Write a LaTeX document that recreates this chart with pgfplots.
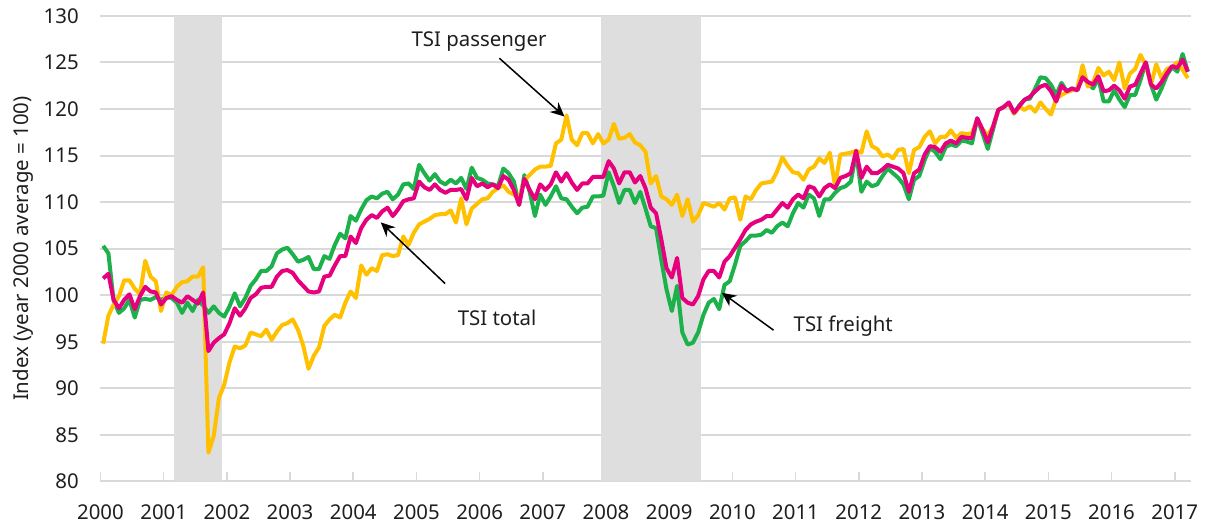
\documentclass[border=0pt]{standalone}
\usepackage{fontspec}
\setmainfont{Noto Sans}
\usepackage{pgfplots}
\usepackage{pgfplotstable}
\pgfplotsset{compat=1.18}
\usetikzlibrary{arrows.meta}
\definecolor{tsigreen}{RGB}{29,177,76}
\definecolor{tsipink}{RGB}{230,0,126}
\definecolor{tsiyellow}{RGB}{255,192,0}
\definecolor{recgray}{RGB}{222,222,222}
\definecolor{gridgray}{RGB}{217,217,217}
\definecolor{txt}{RGB}{30,30,30}

\pgfplotstableread{
t g p y
2000.042 105.3 101.8 94.8
2000.125 104.5 102.3 97.8
2000.208 99.4 99.5 99.0
2000.292 98.1 98.6 99.9
2000.375 98.6 99.5 101.6
2000.458 99.5 100.1 101.6
2000.542 97.6 98.5 100.7
2000.625 99.5 99.9 100.1
2000.708 99.6 100.9 103.7
2000.792 99.5 100.4 102.0
2000.875 99.8 100.3 101.5
2000.958 99.5 99.0 98.3
2001.042 99.8 99.7 100.3
2001.125 99.7 99.9 100.0
2001.208 99.2 99.5 100.9
2001.292 98.1 99.2 101.4
2001.375 99.2 99.9 101.5
2001.458 98.3 99.5 102.0
2001.542 99.5 99.1 102.0
2001.625 98.9 100.3 103.0
2001.708 98.1 94.0 83.1
2001.792 98.8 94.9 84.9
2001.875 98.1 95.4 89.0
2001.958 97.7 95.8 90.4
2002.042 98.8 97.0 92.8
2002.125 100.2 98.6 94.5
2002.208 98.8 97.8 94.3
2002.292 99.7 98.6 94.6
2002.375 101.0 99.7 96.0
2002.458 101.7 100.1 95.8
2002.542 102.6 100.8 95.6
2002.625 102.6 100.9 96.3
2002.708 103.1 100.9 95.2
2002.792 104.5 102.0 96.1
2002.875 104.9 102.6 96.8
2002.958 105.1 102.7 97.0
2003.042 104.4 102.4 97.4
2003.125 103.6 101.6 96.3
2003.208 103.8 101.0 94.6
2003.292 104.1 100.4 92.1
2003.375 102.8 100.3 93.5
2003.458 102.8 100.4 94.4
2003.542 104.2 102.0 96.7
2003.625 103.9 102.1 97.4
2003.708 105.4 103.2 97.9
2003.792 106.6 104.2 97.6
2003.875 106.1 104.2 99.2
2003.958 108.5 106.3 100.4
2004.042 108.0 105.6 99.7
2004.125 109.2 107.2 103.2
2004.208 110.2 108.1 102.2
2004.292 110.6 108.6 102.9
2004.375 110.4 108.3 102.6
2004.458 110.9 109.0 104.3
2004.542 111.1 109.4 104.4
2004.625 110.3 108.5 104.2
2004.708 110.8 109.2 104.3
2004.792 111.9 110.1 106.3
2004.875 112.0 110.3 105.4
2004.958 111.4 110.4 106.7
2005.042 114.0 112.2 107.6
2005.125 113.1 111.6 107.9
2005.208 112.3 111.3 108.2
2005.292 113.0 111.9 108.6
2005.375 112.2 111.3 108.7
2005.458 111.9 111.0 108.7
2005.542 112.4 111.3 109.1
2005.625 112.0 111.3 107.8
2005.708 112.6 111.4 110.4
2005.792 111.4 110.3 107.6
2005.875 113.7 112.6 109.3
2005.958 112.6 111.7 109.8
2006.042 112.4 112.0 110.3
2006.125 112.0 111.6 110.4
2006.208 111.9 111.9 111.1
2006.292 111.7 111.5 111.5
2006.375 113.6 112.8 111.8
2006.458 113.1 112.4 111.1
2006.542 112.2 111.3 110.8
2006.625 109.7 109.7 110.3
2006.708 112.9 112.5 112.4
2006.792 111.1 111.3 112.9
2006.875 108.5 110.3 113.5
2006.958 110.8 111.9 113.8
2007.042 109.7 111.3 113.8
2007.125 110.6 111.9 113.9
2007.208 111.7 113.2 116.3
2007.292 110.4 112.2 116.7
2007.375 110.3 113.1 119.3
2007.458 109.5 112.1 116.7
2007.542 108.8 111.3 116.1
2007.625 109.4 112.0 117.4
2007.708 109.5 112.0 117.4
2007.792 110.6 112.7 116.3
2007.875 110.6 112.7 117.3
2007.958 110.7 112.7 116.3
2008.042 113.2 114.4 116.7
2008.125 111.7 113.6 118.4
2008.208 109.9 112.0 116.8
2008.292 111.3 113.2 116.9
2008.375 111.3 113.2 117.3
2008.458 109.9 112.1 116.4
2008.542 111.1 112.8 116.1
2008.625 109.3 111.5 115.4
2008.708 107.4 109.4 112.0
2008.792 107.2 108.8 112.8
2008.875 103.8 106.0 110.6
2008.958 100.6 102.9 110.3
2009.042 98.3 101.9 109.7
2009.125 101.0 104.0 110.8
2009.208 96.0 99.7 108.5
2009.292 94.7 99.2 110.3
2009.375 94.9 99.0 107.9
2009.458 96.0 99.9 108.6
2009.542 97.9 101.7 109.9
2009.625 99.2 102.6 109.7
2009.708 99.6 102.6 109.5
2009.792 98.5 101.9 109.9
2009.875 101.1 103.6 109.2
2009.958 101.5 104.2 110.4
2010.042 103.3 105.1 110.5
2010.125 105.3 106.0 108.1
2010.208 105.8 107.0 110.6
2010.292 106.4 107.6 110.3
2010.375 106.4 107.9 111.3
2010.458 106.5 108.1 112.0
2010.542 107.0 108.5 112.1
2010.625 106.7 108.5 112.2
2010.708 107.4 109.2 113.3
2010.792 107.8 109.9 114.8
2010.875 107.4 109.4 113.9
2010.958 108.8 110.3 113.2
2011.042 109.9 110.8 113.1
2011.125 109.4 110.4 112.4
2011.208 110.8 111.7 113.5
2011.292 110.4 111.5 113.8
2011.375 108.5 110.6 114.7
2011.458 110.3 111.5 114.2
2011.542 110.3 111.9 115.3
2011.625 111.0 111.5 111.7
2011.708 111.5 112.6 115.1
2011.792 111.7 112.8 115.2
2011.875 112.2 113.1 115.3
2011.958 115.3 115.5 115.5
2012.042 111.1 112.6 115.3
2012.125 112.2 113.8 117.6
2012.208 111.7 113.1 116.0
2012.292 111.9 113.1 115.7
2012.375 112.8 113.5 114.9
2012.458 113.6 114.0 115.1
2012.542 113.1 113.8 114.7
2012.625 112.6 113.6 115.6
2012.708 111.9 113.1 115.7
2012.792 110.3 111.1 113.1
2012.875 112.4 113.1 115.6
2012.958 112.8 113.5 115.9
2013.042 114.5 115.1 117.0
2013.125 115.8 116.0 117.6
2013.208 115.4 115.9 116.3
2013.292 114.6 115.4 117.0
2013.375 115.9 116.3 117.0
2013.458 116.2 116.6 117.7
2013.542 116.0 116.3 116.9
2013.625 116.6 117.0 117.4
2013.708 116.5 116.9 117.3
2013.792 116.3 116.9 117.4
2013.875 119.0 119.0 118.9
2013.958 117.4 117.8 117.8
2014.042 115.7 116.4 117.2
2014.125 117.8 118.1 118.1
2014.208 119.9 119.9 119.9
2014.292 120.2 120.2 120.2
2014.375 120.6 120.7 120.6
2014.458 119.5 119.6 119.5
2014.542 120.4 120.3 120.2
2014.625 121.0 121.0 119.9
2014.708 121.1 121.3 120.3
2014.792 122.2 121.9 119.7
2014.875 123.4 122.4 120.7
2014.958 123.3 122.6 120.0
2015.042 122.6 121.9 119.4
2015.125 121.5 120.8 121.1
2015.208 122.8 122.5 121.5
2015.292 121.9 121.9 121.8
2015.375 122.2 122.2 122.0
2015.458 122.0 122.0 122.2
2015.542 123.5 123.4 124.7
2015.625 122.8 122.9 122.4
2015.708 122.2 122.6 122.8
2015.792 123.3 123.5 124.4
2015.875 120.8 121.9 123.6
2015.958 120.8 122.0 124.0
2016.042 122.0 122.5 123.1
2016.125 121.0 122.0 125.0
2016.208 120.2 121.1 122.2
2016.292 121.5 122.4 123.8
2016.375 121.5 122.6 124.3
2016.458 123.1 123.8 125.8
2016.542 125.0 125.0 124.7
2016.625 122.6 122.6 122.6
2016.708 121.0 122.2 124.8
2016.792 122.2 122.9 123.3
2016.875 123.6 123.8 124.3
2016.958 124.5 124.6 124.5
2017.042 124.0 124.4 125.0
2017.125 125.9 125.3 124.2
2017.208 124.0 124.0 123.3
}\tsidata

\begin{document}
\fontsize{10.2}{12}\selectfont
\begin{tikzpicture}
\begin{axis}[
  scale only axis, width=545pt, height=232.85pt,
  xmin=2000, xmax=2017.25, ymin=80, ymax=130,
  xtick={2000,2001,...,2017}, ytick={80,85,...,130},
  axis x line*=bottom, axis y line*=left,
  y axis line style={draw=none},
  x axis line style={gridgray, line width=1pt},
  ymajorgrids, grid style={gridgray, line width=1pt},
  xtick style={gridgray, line width=0.8pt}, ytick style={draw=none},
  tick align=inside, major tick length=4.5pt,
  tick label style={font=\fontsize{10.2}{12}\selectfont, text=txt},
  xticklabel style={anchor=center, yshift=-15.25pt},
  yticklabel style={anchor=east, xshift=-7.3pt},
  /pgf/number format/1000 sep={},
  /pgf/number format/assume math mode=true,
  ylabel={Index (year 2000 average = 100)},
  ylabel style={at={(axis description cs:-0.0707,0.5)}, anchor=center, font=\fontsize{10.2}{12}\selectfont, text=txt},
  line join=round,
]
\addplot[draw=none, fill=recgray] coordinates {(2001.167,80) (2001.167,130) (2001.917,130) (2001.917,80)};
\addplot[draw=none, fill=recgray] coordinates {(2007.917,80) (2007.917,130) (2009.5,130) (2009.5,80)};
\addplot[tsigreen, line width=2pt] table[x=t, y=g] {\tsidata};
\addplot[tsiyellow, line width=2pt] table[x=t, y=y] {\tsidata};
\addplot[tsipink, line width=2pt] table[x=t, y=p] {\tsidata};

\node[text=txt, font=\fontsize{10.2}{12}\selectfont] at (axis cs:2005.99,127.2) {TSI passenger};
\draw[-{Stealth[length=7pt,width=6.5pt]}, line width=0.75pt] (axis cs:2006.313,125.44) -- (axis cs:2007.342,119.19);
\node[text=txt, font=\fontsize{10.2}{12}\selectfont] at (axis cs:2006.277,97.58) {TSI total};
\draw[-{Stealth[length=7pt,width=6.5pt]}, line width=0.75pt] (axis cs:2005.454,101.25) -- (axis cs:2004.436,107.82);
\node[text=txt, font=\fontsize{10.2}{12}\selectfont] at (axis cs:2011.754,96.68) {TSI freight};
\draw[-{Stealth[length=7pt,width=6.5pt]}, line width=0.75pt] (axis cs:2010.651,96.25) -- (axis cs:2009.834,100.26);
\end{axis}
\pgfresetboundingbox
\path[use as bounding box] (-50.25pt,-23.75pt) rectangle (554.75pt,240.75pt);
\end{tikzpicture}
\end{document}
